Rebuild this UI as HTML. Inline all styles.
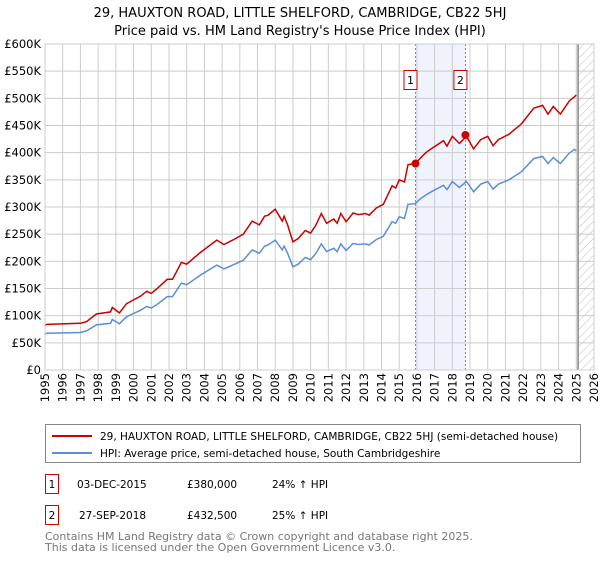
<!DOCTYPE html>
<html><head><meta charset="utf-8"><style>
body{margin:0;background:#fff;width:600px;height:560px;overflow:hidden;font-family:"DejaVu Sans","Liberation Sans",sans-serif;}
svg text{font-family:"DejaVu Sans","Liberation Sans",sans-serif;}
</style></head><body>
<svg id="chart" width="600" height="560" xmlns="http://www.w3.org/2000/svg">
<defs><pattern id="hatch" width="6" height="6" patternUnits="userSpaceOnUse" patternTransform="rotate(45)"><line x1="0" y1="0" x2="0" y2="6" stroke="#bbb" stroke-width="1"/></pattern></defs>
<text x="300" y="17" text-anchor="middle" font-size="13">29, HAUXTON ROAD, LITTLE SHELFORD, CAMBRIDGE, CB22 5HJ</text>
<text x="300" y="35" text-anchor="middle" font-size="13">Price paid vs. HM Land Registry's House Price Index (HPI)</text>
<g id="plot"></g>
<rect x="45.5" y="424.5" width="535" height="38" fill="#fff" stroke="#888"/>
<line x1="52" y1="436" x2="92" y2="436" stroke="#cc0000" stroke-width="2"/>
<text x="100" y="440" font-size="10.5">29, HAUXTON ROAD, LITTLE SHELFORD, CAMBRIDGE, CB22 5HJ (semi-detached house)</text>
<line x1="52" y1="453" x2="92" y2="453" stroke="#5b8ed6" stroke-width="2"/>
<text x="100" y="457" font-size="10.5">HPI: Average price, semi-detached house, South Cambridgeshire</text>
<g font-size="10.5">
<rect x="45.5" y="474.5" width="13" height="19" fill="#fff" stroke="#cc0000"/>
<text x="52" y="488" text-anchor="middle">1</text>
<text x="77" y="488">03-DEC-2015</text><text x="187" y="488">£380,000</text><text x="272" y="488">24% ↑ HPI</text></g>
<g font-size="10.5">
<rect x="45.5" y="505.5" width="13" height="19" fill="#fff" stroke="#cc0000"/>
<text x="52" y="519" text-anchor="middle">2</text>
<text x="79" y="519">27-SEP-2018</text><text x="187" y="519">£432,500</text><text x="272" y="519">25% ↑ HPI</text></g>
<text x="45" y="540" font-size="11" fill="#777">Contains HM Land Registry data © Crown copyright and database right 2025.</text>
<text x="45" y="551" font-size="11" fill="#777">This data is licensed under the Open Government Licence v3.0.</text>
</svg>
<script>
const years=[1995.0,1995.1,1997.0,1997.35,1997.9,1998.7,1998.8,1999.2,1999.6,2000.4,2000.75,2001.0,2001.3,2001.9,2002.2,2002.7,2003.0,2003.8,2004.7,2005.1,2005.6,2006.2,2006.7,2007.1,2007.4,2007.6,2008.0,2008.4,2008.5,2008.7,2009.0,2009.3,2009.7,2010.0,2010.3,2010.6,2010.9,2011.3,2011.5,2011.7,2012.0,2012.4,2012.7,2013.1,2013.3,2013.7,2014.1,2014.6,2014.8,2015.0,2015.3,2015.5,2015.9,2016.2,2016.5,2016.8,2017.5,2017.7,2018.0,2018.4,2018.8,2019.2,2019.6,2020.0,2020.3,2020.6,2021.2,2021.9,2022.6,2023.1,2023.4,2023.7,2024.1,2024.6,2024.9,2025.0];
const hpiValues=[66,67.5,69,72,83,86,93,85,98,110,117,114,120,135,135,160,157,175,193,186,193,202,221,215,228,230,239,221,228,215,190,195,207,203,215,232,218,224,218,232,220,233,231,232,230,240,246,273,270,282,279,305,306,315,322,328,340,332,347,336,347,328,342,347,333,342,350,365,389,393,380,391,380,399,406,403];
const propValues=[82,84,86,89,103,107,115,105,122,136,145,141,149,167,167,198,195,217,239,231,239,250,274,267,283,285,296,274,283,267,236,242,257,252,267,288,270,278,270,288,273,289,286,288,285,298,305,339,335,350,346,378,380,390,400,407,422,412,430,417,430,407,424,430,413,424,434,453,482,487,471,485,471,495,503,506];
const saleYears=[2015.92,2018.74];
const salePrices=[380,432.5];
const saleLabels=["1","2"];
const yTicks=[0,50,100,150,200,250,300,350,400,450,500,550,600];
const yTickLabels=["£0","£50K","£100K","£150K","£200K","£250K","£300K","£350K","£400K","£450K","£500K","£550K","£600K"];
const xTicks=[1995,1996,1997,1998,1999,2000,2001,2002,2003,2004,2005,2006,2007,2008,2009,2010,2011,2012,2013,2014,2015,2016,2017,2018,2019,2020,2021,2022,2023,2024,2025,2026];
const dataEnd=2025.1;

const X0=45,X1=594,Y0=370,Y1=44;
const xs=y=>X0+(y-1995)/31*(X1-X0);
const ys=v=>Y0-v/600*(Y0-Y1);
const NS="http://www.w3.org/2000/svg";
const g=document.getElementById('plot');
function mk(t,a){const e=document.createElementNS(NS,t);for(const k in a)e.setAttribute(k,a[k]);g.appendChild(e);return e;}
let e=mk('rect',{x:xs(saleYears[0]),y:Y1,width:xs(saleYears[1])-xs(saleYears[0]),height:Y0-Y1,fill:'#eef3fc'});


e=mk('rect',{x:xs(dataEnd),y:Y1,width:X1-xs(dataEnd),height:Y0-Y1,fill:'url(#hatch)'});


yTicks.forEach((v,i)=>{
 mk('line',{x1:X0,x2:X1,y1:ys(v),y2:ys(v),stroke:'#ccc'});
 const t=mk('text',{x:X0-4,y:ys(v)+4,'text-anchor':'end','font-size':'11.5'});t.textContent=yTickLabels[i];
 
 
});
xTicks.forEach(yr=>{
 mk('line',{x1:xs(yr),x2:xs(yr),y1:Y1,y2:Y0,stroke:'#ccc'});
 const t=mk('text',{x:0,y:0,transform:`translate(${xs(yr)+4},${Y0+3}) rotate(-90)`,'text-anchor':'end','font-size':'11.5'});t.textContent=yr;
 
 
});
e=mk('line',{x1:xs(dataEnd),x2:xs(dataEnd),y1:Y1,y2:Y0,stroke:'#888','stroke-width':1.5});


saleYears.forEach((yr,i)=>{
 mk('line',{x1:xs(yr),x2:xs(yr),y1:Y1,y2:Y0,stroke:'#f06060','stroke-dasharray':'2,2'});
});
function path(vals){return vals.map((v,i)=>(i?'L':'M')+xs(years[i]).toFixed(1)+','+ys(v).toFixed(1)).join('');}
e=mk('path',{d:path(hpiValues),fill:'none',stroke:'#5b8ed6','stroke-width':1.5});


e=mk('path',{d:path(propValues),fill:'none',stroke:'#cc0000','stroke-width':1.5});


saleYears.forEach((yr,i)=>{
 const c=mk('circle',{cx:xs(yr),cy:ys(salePrices[i]),r:4,fill:'#cc0000'});
 
 
 const b=mk('rect',{x:xs(yr)-11.5,y:70.5,width:13,height:19,fill:'#fff',stroke:'#cc0000'});
 
 
 const t=mk('text',{x:xs(yr)-5,y:84,'text-anchor':'middle','font-size':'11'});t.textContent=saleLabels[i];
 
 
});
mk('rect',{x:X0,y:Y1,width:X1-X0,height:Y0-Y1,fill:'none',stroke:'#ccc'});
</script>
</body></html>
